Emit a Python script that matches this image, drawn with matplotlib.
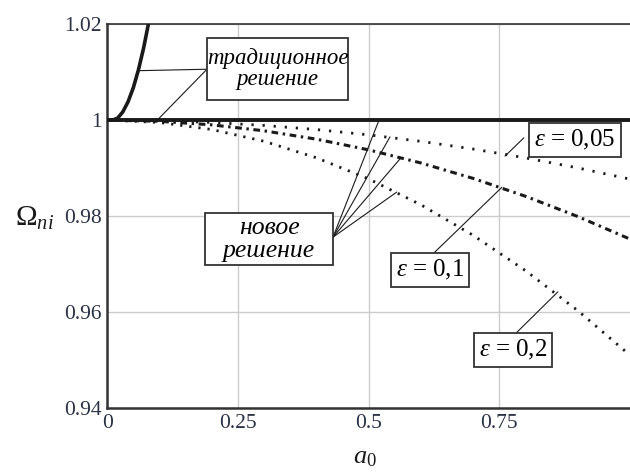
import matplotlib
matplotlib.use("Agg")
import matplotlib.pyplot as plt
from matplotlib.patches import Rectangle

plt.rcParams['font.family'] = ['Liberation Serif', 'DejaVu Serif']
plt.rcParams['mathtext.fontset'] = 'custom'
plt.rcParams['mathtext.rm'] = 'Liberation Serif'
plt.rcParams['mathtext.it'] = 'Liberation Serif:italic'

# dimensionless parameter a0
a0 = [0.0, 0.1, 0.2, 0.3, 0.4, 0.5, 0.6, 0.7, 0.8, 0.9, 1.0]

# new solution, eps = 0.05 / 0.1 / 0.2
omega_eps005 = [1.0, 0.99988, 0.99951, 0.99889, 0.99803, 0.99693, 0.99557, 0.99397, 0.99213, 0.99004, 0.9877]
omega_eps01 = [1.0, 0.99975, 0.99901, 0.99777, 0.99603, 0.9938, 0.99107, 0.98785, 0.98413, 0.97991, 0.9752]
omega_eps02 = [1.0, 0.99951, 0.99804, 0.99559, 0.99216, 0.98775, 0.98236, 0.97599, 0.96864, 0.96031, 0.951]

# traditional solution: steep branch and the flat level
a0_trad = [0.0, 0.01, 0.02, 0.03, 0.04, 0.05, 0.06, 0.07, 0.08]
omega_trad = [1.0, 1.0, 1.0004, 1.0017, 1.0038, 1.0067, 1.0105, 1.0151, 1.0206]
a0_flat = [0.0, 1.0]
omega_flat = [1.0, 1.0]

x_ticks = [0, 0.25, 0.5, 0.75]
x_tick_labels = ['0', '0.25', '0.5', '0.75']
y_ticks = [0.94, 0.96, 0.98, 1.0, 1.02]
y_tick_labels = ['0.94', '0.96', '0.98', '1', '1.02']

fig = plt.figure(figsize=(6.3, 4.73), dpi=100)
ax = fig.add_axes([0.170, 0.1374, 0.830, 0.8116])

ink = '#1a1a1a'
frame = '#333333'
ax.set_xlim(0, 1.0)
ax.set_ylim(0.94, 1.02)
ax.set_xticks(x_ticks)
ax.set_xticklabels(x_tick_labels)
ax.set_yticks(y_ticks)
ax.set_yticklabels(y_tick_labels)
ax.tick_params(length=0, labelsize=15.5, colors='#2b3245', pad=4)
ax.grid(True, color='#cccccc', linewidth=1.0)
ax.set_axisbelow(True)
for side in ('left', 'bottom'):
    ax.spines[side].set_linewidth(1.8)
    ax.spines[side].set_color(frame)
ax.spines['top'].set_linewidth(1.2)
ax.spines['top'].set_color(frame)
ax.spines['right'].set_visible(False)

ax.plot(a0_flat, omega_flat, color=ink, lw=2.8, solid_capstyle='butt', zorder=3)
ax.plot(a0_trad, omega_trad, color=ink, lw=2.6, zorder=3)
ax.plot(a0, omega_eps005, color=ink, lw=2.0, linestyle=(0, (0.8, 3.2)), zorder=4)
ax.plot(a0, omega_eps01, color=ink, lw=2.2, linestyle=(0, (2.2, 1.5, 0.8, 1.5)), zorder=4)
ax.plot(a0, omega_eps02, color=ink, lw=2.0, linestyle=(0, (0.8, 2.5)), zorder=4)

box = dict(boxstyle='square,pad=0.2', facecolor='white', edgecolor=frame, linewidth=1.3)
leader = dict(arrowstyle='-', color=ink, lw=0.8, shrinkA=0, shrinkB=0)


def framed_note(x0, x1, y0, y1, text, size):
    ax.add_patch(Rectangle((x0, y0), x1 - x0, y1 - y0, facecolor='white',
                           edgecolor=frame, linewidth=1.3, zorder=6))
    ax.text((x0 + x1) / 2, (y0 + y1) / 2, text, style='italic', fontsize=size,
            ha='center', va='center', linespacing=1.05, zorder=7)


# traditional solution label
framed_note(0.191, 0.461, 1.0042, 1.0171, 'традиционное\nрешение', 16.5)
for target in [(0.061, 1.0103), (0.096, 1.0)]:
    ax.annotate('', xy=target, xytext=(0.191, 1.0106), arrowprops=leader, zorder=5)

# new solution label
framed_note(0.187, 0.432, 0.9698, 0.9806, 'новое\nрешение', 18.5)
for target in [(0.52, 1.0), (0.541, 0.9965), (0.56, 0.9919), (0.554, 0.985)]:
    ax.annotate('', xy=target, xytext=(0.432, 0.9756), arrowprops=leader, zorder=5)

# epsilon labels
ax.text(0.895, 0.9958, r'$\varepsilon$ = 0,05', fontsize=18, ha='center', va='center',
        bbox=box, zorder=6)
ax.annotate('', xy=(0.761, 0.9925), xytext=(0.797, 0.9963), arrowprops=leader, zorder=5)

ax.text(0.618, 0.9688, r'$\varepsilon$ = 0,1', fontsize=18, ha='center', va='center',
        bbox=box, zorder=6)
ax.annotate('', xy=(0.755, 0.986), xytext=(0.623, 0.9721), arrowprops=leader, zorder=5)

ax.text(0.776, 0.9521, r'$\varepsilon$ = 0,2', fontsize=18, ha='center', va='center',
        bbox=box, zorder=6)
ax.annotate('', xy=(0.862, 0.9642), xytext=(0.782, 0.9556), arrowprops=leader, zorder=5)

fig.text(0.055, 1 - 218 / 473, r'$\Omega_{ni}$', fontsize=21, ha='center', va='center', color=ink)
fig.text(365 / 630, 1 - 458 / 473, r'$a_0$', fontsize=19, ha='center', va='center', color=ink)

fig.savefig('out.png', dpi=100)
